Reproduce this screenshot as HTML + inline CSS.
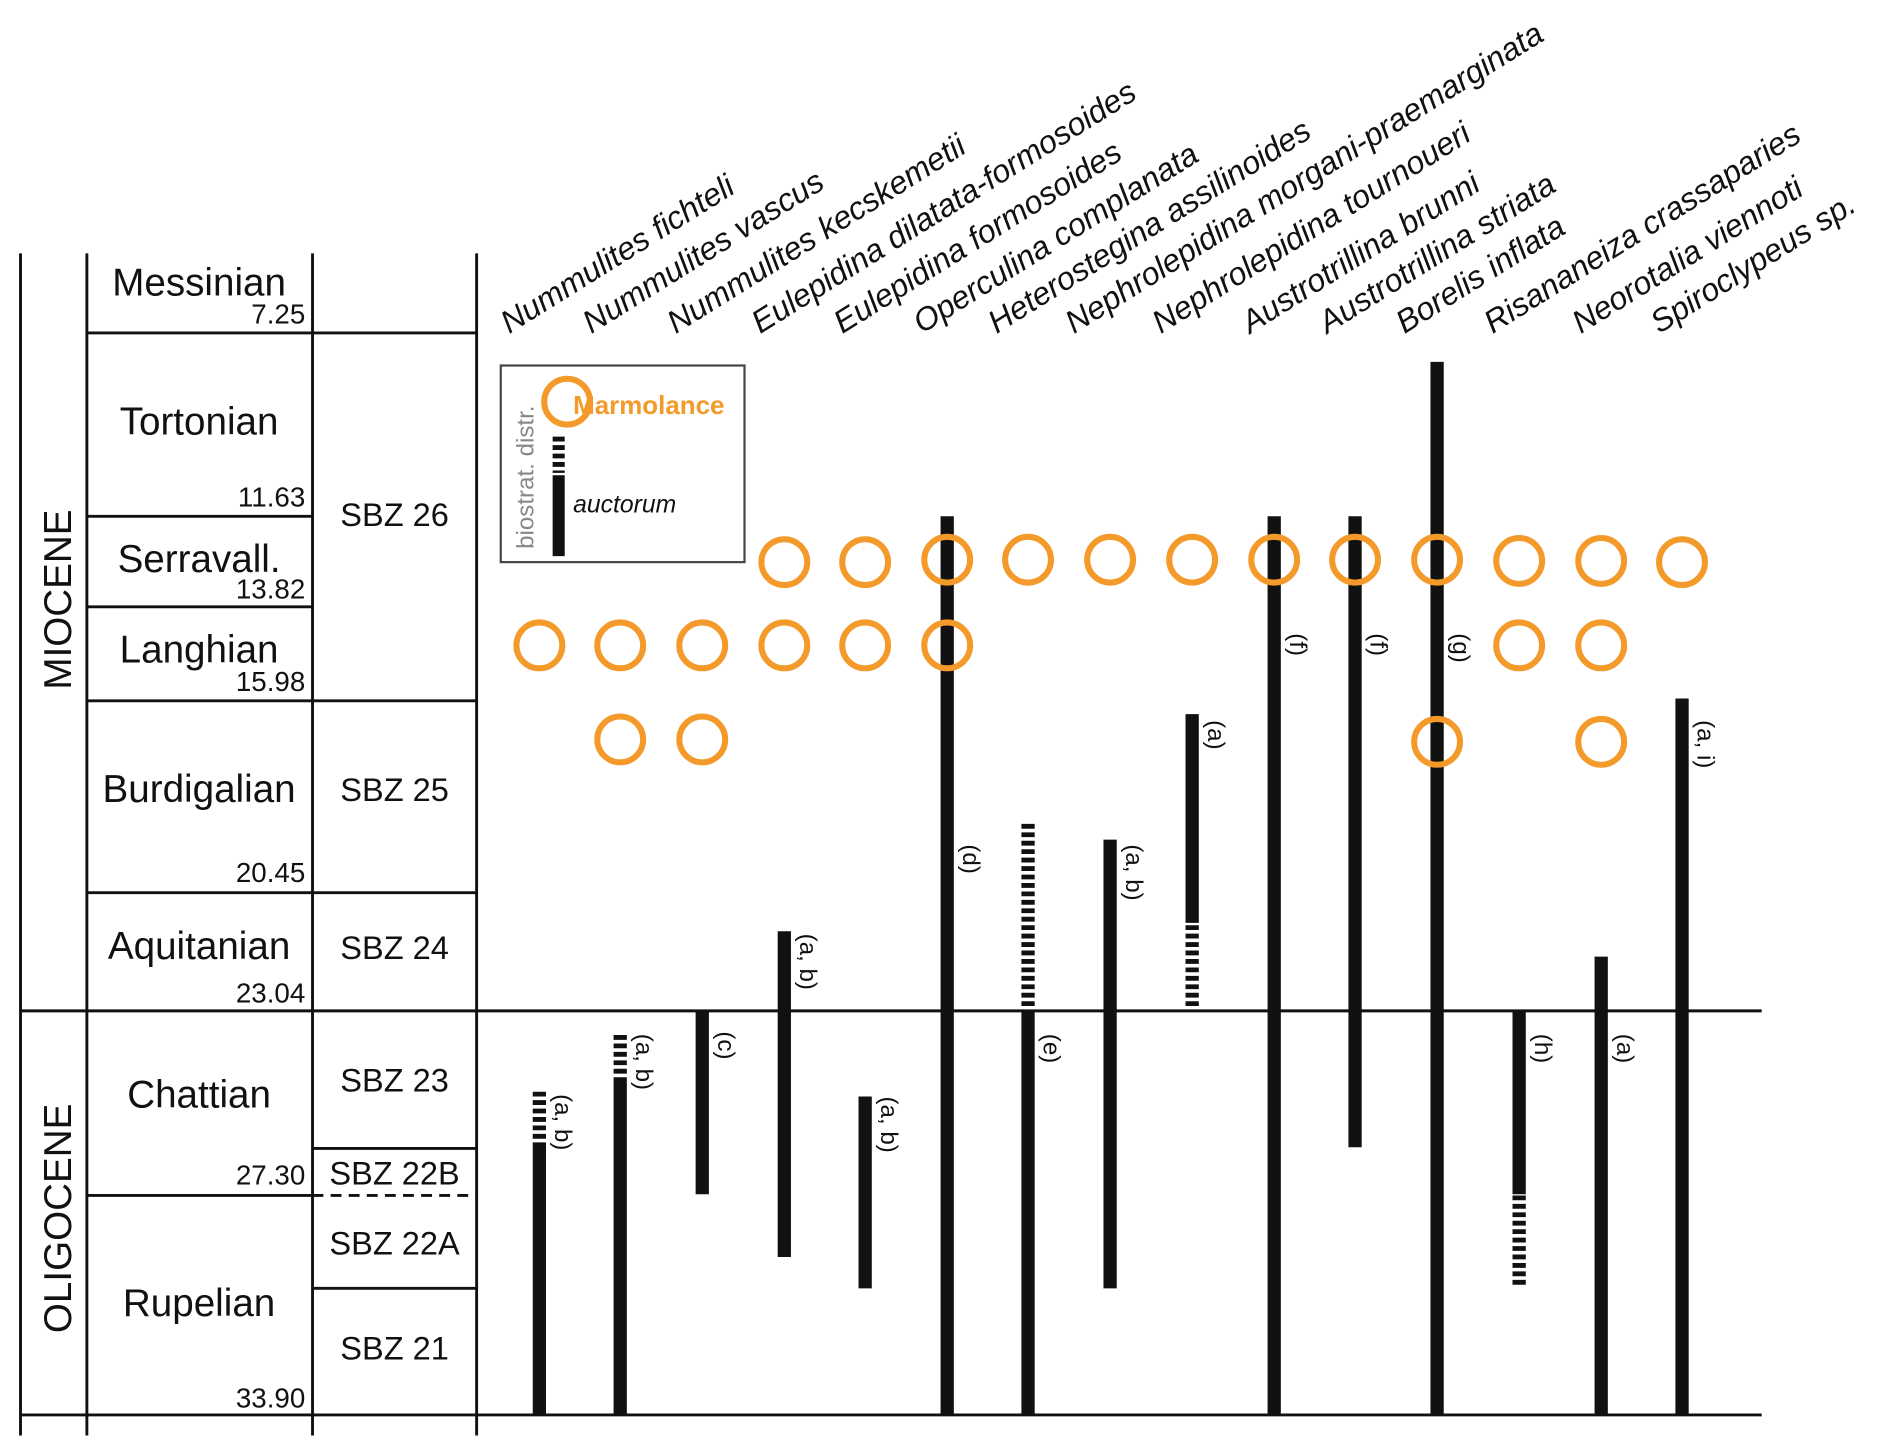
<!DOCTYPE html>
<html><head><meta charset="utf-8"><style>
html,body{margin:0;padding:0;background:#fff}
svg{display:block}
text{font-family:"Liberation Sans",Arial,sans-serif;fill:#111}
</style></head><body>
<svg width="1892" height="1456" viewBox="0 0 1568 1207" preserveAspectRatio="none" xmlns="http://www.w3.org/2000/svg">
<g stroke="#111" stroke-width="2.4" fill="none">
<line x1="17" y1="210" x2="17" y2="1190"/>
<line x1="72" y1="210" x2="72" y2="1190"/>
<line x1="259" y1="210" x2="259" y2="1190"/>
<line x1="395" y1="210" x2="395" y2="1190"/>
<line x1="72" y1="276" x2="395" y2="276"/>
<line x1="72" y1="428" x2="259" y2="428"/>
<line x1="72" y1="503" x2="259" y2="503"/>
<line x1="72" y1="581" x2="395" y2="581"/>
<line x1="72" y1="740" x2="395" y2="740"/>
<line x1="17" y1="838" x2="1460" y2="838"/>
<line x1="259" y1="952" x2="395" y2="952"/>
<line x1="72" y1="991" x2="259" y2="991"/>
<line x1="259" y1="991" x2="395" y2="991" stroke-dasharray="9,6"/>
<line x1="259" y1="1068" x2="395" y2="1068"/>
<line x1="17" y1="1173" x2="1460" y2="1173"/>
</g>
<g font-size="32" text-anchor="middle">
<text x="165" y="245">Messinian</text>
<text x="165" y="360">Tortonian</text>
<text x="165" y="474">Serravall.</text>
<text x="165" y="549">Langhian</text>
<text x="165" y="665">Burdigalian</text>
<text x="165" y="795">Aquitanian</text>
<text x="165" y="918">Chattian</text>
<text x="165" y="1091">Rupelian</text>
</g>
<g font-size="23" text-anchor="end">
<text x="253" y="268">7.25</text>
<text x="253" y="420">11.63</text>
<text x="253" y="496">13.82</text>
<text x="253" y="573">15.98</text>
<text x="253" y="731">20.45</text>
<text x="253" y="831">23.04</text>
<text x="253" y="982">27.30</text>
<text x="253" y="1167">33.90</text>
</g>
<g font-size="27" text-anchor="middle">
<text x="327" y="436">SBZ 26</text>
<text x="327" y="664">SBZ 25</text>
<text x="327" y="795">SBZ 24</text>
<text x="327" y="905">SBZ 23</text>
<text x="327" y="982">SBZ 22B</text>
<text x="327" y="1040">SBZ 22A</text>
<text x="327" y="1127">SBZ 21</text>
</g>
<g font-size="32" text-anchor="middle">
<text transform="translate(59,497) rotate(-90)">MIOCENE</text>
<text transform="translate(59,1010) rotate(-90)">OLIGOCENE</text>
</g>
<g font-size="26.5" font-style="italic">
<text transform="translate(422,277) rotate(-32)">Nummulites fichteli</text>
<text transform="translate(490,277) rotate(-32)">Nummulites vascus</text>
<text transform="translate(560,277) rotate(-32)">Nummulites kecskemetii</text>
<text transform="translate(630,277) rotate(-32)">Eulepidina dilatata-formosoides</text>
<text transform="translate(698,277) rotate(-32)">Eulepidina formosoides</text>
<text transform="translate(764,277) rotate(-32)">Operculina complanata</text>
<text transform="translate(826,277) rotate(-32)">Heterostegina assilinoides</text>
<text transform="translate(890,277) rotate(-32)">Nephrolepidina morgani-praemarginata</text>
<text transform="translate(962,277) rotate(-32)">Nephrolepidina tournoueri</text>
<text transform="translate(1036,277) rotate(-32)">Austrotrillina brunni</text>
<text transform="translate(1100,277) rotate(-32)">Austrotrillina striata</text>
<text transform="translate(1164,277) rotate(-32)">Borelis inflata</text>
<text transform="translate(1237,277) rotate(-32)">Risananeiza crassaparies</text>
<text transform="translate(1310,277) rotate(-32)">Neorotalia viennoti</text>
<text transform="translate(1375,277) rotate(-32)">Spiroclypeus sp.</text>
</g>
<rect x="415" y="303" width="202" height="163" fill="none" stroke="#444" stroke-width="1.8"/>
<text transform="translate(442,455) rotate(-90)" font-size="20" style="fill:#888">biostrat. distr.</text>
<circle cx="470" cy="333" r="19" fill="none" stroke="#f39a2a" stroke-width="5"/>
<text x="475" y="343" font-size="21.5" font-weight="bold" style="fill:#f39a2a">Marmolance</text>
<line x1="463" y1="362" x2="463" y2="392" stroke="#111" stroke-width="10" stroke-dasharray="4,3"/>
<line x1="463" y1="394" x2="463" y2="461" stroke="#111" stroke-width="10"/>
<text x="475" y="425" font-size="20.5" font-style="italic">auctorum</text>
<g stroke="#111" stroke-width="11">
<line x1="447" y1="950" x2="447" y2="1173"/>
<line x1="447" y1="905" x2="447" y2="950" stroke-dasharray="4,3"/>
<line x1="514" y1="893" x2="514" y2="1173"/>
<line x1="514" y1="858" x2="514" y2="893" stroke-dasharray="4,3"/>
<line x1="582" y1="838" x2="582" y2="990"/>
<line x1="650" y1="772" x2="650" y2="1042"/>
<line x1="717" y1="909" x2="717" y2="1068"/>
<line x1="785" y1="428" x2="785" y2="1173"/>
<line x1="852" y1="683" x2="852" y2="838" stroke-dasharray="4,3"/>
<line x1="852" y1="838" x2="852" y2="1173"/>
<line x1="920" y1="696" x2="920" y2="1068"/>
<line x1="988" y1="592" x2="988" y2="765"/>
<line x1="988" y1="767" x2="988" y2="838" stroke-dasharray="4,3"/>
<line x1="1056" y1="428" x2="1056" y2="1173"/>
<line x1="1123" y1="428" x2="1123" y2="951"/>
<line x1="1191" y1="300" x2="1191" y2="1172"/>
<line x1="1259" y1="838" x2="1259" y2="990"/>
<line x1="1259" y1="991" x2="1259" y2="1068" stroke-dasharray="4,3"/>
<line x1="1327" y1="793" x2="1327" y2="1173"/>
<line x1="1394" y1="579" x2="1394" y2="1173"/>
</g>
<g font-size="20">
<text transform="translate(460,907) rotate(90)">(a, b)</text>
<text transform="translate(527,857) rotate(90)">(a, b)</text>
<text transform="translate(595,855) rotate(90)">(c)</text>
<text transform="translate(663,774) rotate(90)">(a, b)</text>
<text transform="translate(730,909) rotate(90)">(a, b)</text>
<text transform="translate(798,700) rotate(90)">(d)</text>
<text transform="translate(865,857) rotate(90)">(e)</text>
<text transform="translate(933,700) rotate(90)">(a, b)</text>
<text transform="translate(1001,597) rotate(90)">(a)</text>
<text transform="translate(1069,525) rotate(90)">(f)</text>
<text transform="translate(1136,525) rotate(90)">(f)</text>
<text transform="translate(1204,525) rotate(90)">(g)</text>
<text transform="translate(1272,857) rotate(90)">(h)</text>
<text transform="translate(1340,857) rotate(90)">(a)</text>
<text transform="translate(1407,597) rotate(90)">(a, i)</text>
</g>
<g fill="none" stroke="#f39a2a" stroke-width="5">
<circle cx="650" cy="466" r="19"/><circle cx="717" cy="466" r="19"/><circle cx="785" cy="464" r="19"/>
<circle cx="852" cy="464" r="19"/><circle cx="920" cy="464" r="19"/><circle cx="988" cy="464" r="19"/>
<circle cx="1056" cy="464" r="19"/><circle cx="1123" cy="464" r="19"/><circle cx="1191" cy="464" r="19"/>
<circle cx="1259" cy="465" r="19"/><circle cx="1327" cy="465" r="19"/><circle cx="1394" cy="466" r="19"/>
<circle cx="447" cy="535" r="19"/><circle cx="514" cy="535" r="19"/><circle cx="582" cy="535" r="19"/>
<circle cx="650" cy="535" r="19"/><circle cx="717" cy="535" r="19"/><circle cx="785" cy="535" r="19"/>
<circle cx="1259" cy="535" r="19"/><circle cx="1327" cy="535" r="19"/>
<circle cx="514" cy="613" r="19"/><circle cx="582" cy="613" r="19"/>
<circle cx="1191" cy="615" r="19"/><circle cx="1327" cy="615" r="19"/>
</g>
</svg>
</body></html>
